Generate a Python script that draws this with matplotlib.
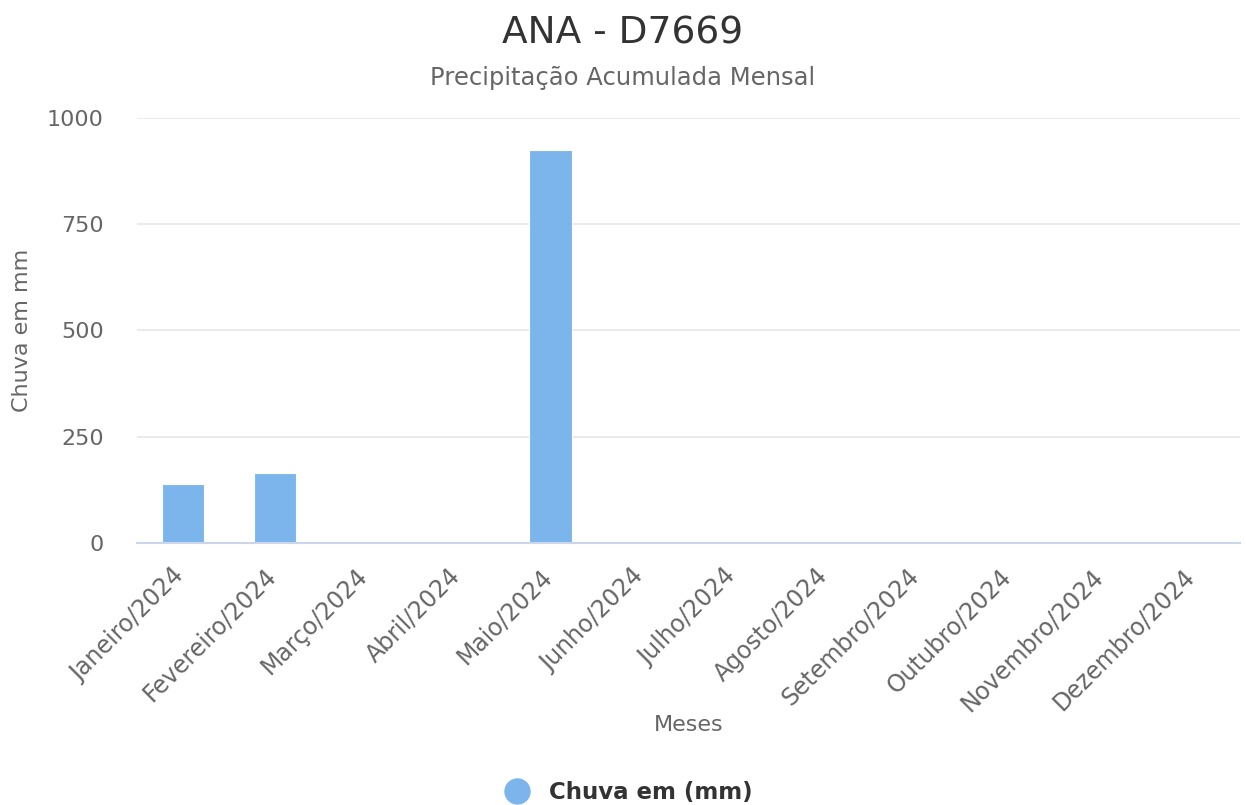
import matplotlib
matplotlib.use("Agg")
import matplotlib.pyplot as plt
import matplotlib.transforms as mtransforms
from matplotlib.lines import Line2D

months = ["Janeiro/2024", "Fevereiro/2024", "Março/2024", "Abril/2024", "Maio/2024",
          "Junho/2024", "Julho/2024", "Agosto/2024", "Setembro/2024", "Outubro/2024",
          "Novembro/2024", "Dezembro/2024"]
rain_mm = [139, 164, 0, 0, 924, 0, 0, 0, 0, 0, 0, 0]
y_ticks = [0, 250, 500, 750, 1000]

plt.rcParams["font.family"] = ["DejaVu Sans"]

fig = plt.figure(figsize=(12.46, 8.05), dpi=100)
ax = fig.add_axes([0.11, 0.3255, 0.885, 0.528])

bar_color = "#7cb5ec"
x = range(len(months))
ax.bar(x, rain_mm, width=0.46, color=bar_color, edgecolor="white", linewidth=0.8, zorder=3)

ax.set_xlim(-0.5, len(months) - 0.5)
ax.set_ylim(0, 1000)
ax.set_yticks(y_ticks)
ax.set_yticklabels([str(v) for v in y_ticks], fontsize=16, color="#666666")
ax.set_xticks(list(x))
ax.set_xticklabels(months, rotation=45, ha="right", rotation_mode="anchor",
                   fontsize=17, color="#666666")
ax.tick_params(axis="x", length=0, pad=15)
ax.tick_params(axis="y", length=0, pad=24)

# shift rotated month labels a little to the left
shift = mtransforms.ScaledTranslation(-8 / 72, 0, fig.dpi_scale_trans)
for lbl in ax.get_xticklabels():
    lbl.set_transform(lbl.get_transform() + shift)

ax.grid(axis="y", color="#e6e6e6", linewidth=1.2, zorder=0)
for side in ["top", "right", "left"]:
    ax.spines[side].set_visible(False)
ax.spines["bottom"].set_color("#ccd6eb")
ax.spines["bottom"].set_linewidth(1.5)
ax.spines["bottom"].set_zorder(4)

fig.text(0.0177, 0.59, "Chuva em mm", rotation=90, ha="center", va="center",
         fontsize=16, color="#666666")
fig.text(0.553, 0.099, "Meses", ha="center", va="center", fontsize=16, color="#666666")

fig.text(0.5, 0.959, "ANA - D7669", ha="center", va="center", fontsize=27, color="#333333")
fig.text(0.5, 0.903, "Precipitação Acumulada Mensal", ha="center", va="center",
         fontsize=17.5, color="#666666")

handle = Line2D([0], [0], marker="o", linestyle="none", markersize=18,
                markerfacecolor=bar_color, markeredgecolor=bar_color)
fig.legend([handle], ["Chuva em (mm)"], loc="center", bbox_to_anchor=(0.5, 0.016),
           frameon=False, prop={"size": 16.5, "weight": "bold"}, labelcolor="#333333",
           handletextpad=0.4)

fig.savefig("out.png", dpi=100)
